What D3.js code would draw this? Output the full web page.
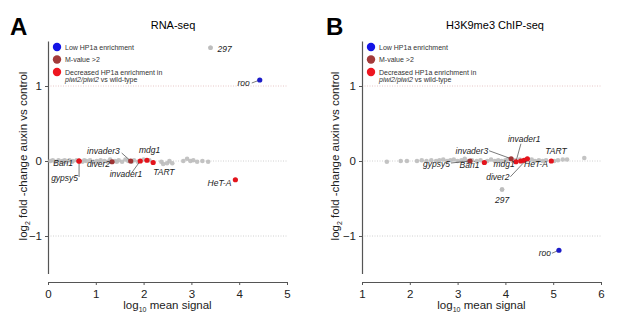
<!DOCTYPE html>
<html>
<head>
<meta charset="utf-8">
<script src="https://cdn.jsdelivr.net/npm/d3@7"></script>
<style>
body { margin: 0; background: #fff; }
text { font-family: "Liberation Sans", Arial, sans-serif; }
</style>
</head>
<body>
<div id="chart"></div>
<script>
// ---- data ----
var yTicks = [-1, 0, 1];
var xTicksA = [0, 1, 2, 3, 4, 5];
var xTicksB = [1, 2, 3, 4, 5, 6];

// background TEs (log10 mean signal, log2 fold change)
var grayA = [
    [0.05, 0.0], [0.1, 0.01], [0.15, -0.01], [0.22, 0.01], [0.27, -0.01], [0.3, 0.0],
    [0.35, 0.01], [0.38, -0.01], [0.45, 0.01], [0.5, -0.01],
    [0.52, 0.0], [0.6, 0.01], [0.72, -0.01], [0.76, 0.01], [0.8, 0.0], [0.88, 0.01], [0.95, -0.01],
    [1.02, 0.0], [1.06, -0.01], [1.1, 0.01], [1.18, 0.0], [1.25, -0.01], [1.3, 0.02], [1.4, 0.0],
    [1.44, -0.01], [1.48, 0.01], [1.55, -0.01], [1.62, 0.02], [1.68, 0.0], [1.75, -0.01], [1.8, 0.01], [1.88, -0.01],
    [2.0, 0.02], [2.12, 0.01], [2.37, -0.01], [2.41, -0.04], [2.49, -0.03], [2.54, 0.0],
    [2.6, -0.03], [2.83, 0.0], [2.91, 0.03], [2.98, 0.0], [3.04, 0.01], [3.12, -0.01],
    [3.23, 0.0], [3.35, -0.01], [3.4, 1.51]
];
var grayB = [
    [1.52, -0.01], [1.81, 0.0], [1.94, 0.0], [2.15, 0.0], [2.25, 0.01], [2.35, 0.0],
    [2.45, 0.01], [2.55, 0.0], [2.62, 0.01], [2.7, 0.02], [2.78, 0.0], [2.85, 0.01],
    [2.92, 0.02], [3.0, 0.0], [3.08, 0.01], [3.15, 0.03], [3.22, 0.0], [3.3, 0.01],
    [3.4, 0.0], [3.48, 0.01], [3.62, 0.0], [3.7, 0.02], [3.78, 0.0], [3.85, 0.01],
    [3.92, 0.0], [4.0, 0.01], [4.05, 0.02], [4.2, 0.01], [4.3, 0.02], [4.38, 0.0],
    [4.45, 0.01], [4.55, 0.02], [4.62, 0.0], [4.7, 0.01], [4.78, 0.0], [4.85, 0.01],
    [5.02, 0.0], [5.1, 0.01], [5.2, 0.02], [5.29, 0.02], [5.65, 0.04], [3.93, -0.38]
];

// named TEs: name, x, y, group (low / mval / dec)
var namedA = [
    ["297", 3.4, 1.51, "none"],
    ["roo", 4.43, 1.08, "low"],
    ["gypsy5", 0.65, 0.0, "dec"],
    ["Bari1", 0.65, 0.0, "dec"],
    ["diver2", 1.34, -0.01, "mval"],
    ["invader3", 1.73, 0.0, "mval"],
    ["invader1", 1.93, 0.0, "dec"],
    ["mdg1", 2.07, 0.01, "dec"],
    ["TART", 2.2, -0.02, "dec"],
    ["HeT-A", 3.92, -0.25, "dec"]
];
var namedB = [
    ["297", 3.93, -0.38, "none"],
    ["roo", 5.12, -1.19, "low"],
    ["gypsy5", 3.26, 0.0, "mval"],
    ["Bari1", 3.56, -0.02, "dec"],
    ["invader3", 4.12, 0.03, "mval"],
    ["invader1", 4.22, -0.01, "dec"],
    ["mdg1", 4.32, 0.0, "dec"],
    ["HeT-A", 4.39, 0.01, "dec"],
    ["diver2", 4.46, 0.03, "dec"],
    ["TART", 4.96, 0.0, "dec"]
];

var legendLabels = ["Low HP1a enrichment", "M-value >2", "Decreased HP1a enrichment in"];
var legendGroups = ["low", "mval", "dec"];

// ---- layout of labels (pixel offsets from the point) ----
var labelPosA = {
    "297": { dx: 7, dy: 4, anchor: "start" },
    "roo": { dx: -10, dy: 6, anchor: "end", line: [-8, 3] },
    "gypsy5": { dx: -1, dy: 20, anchor: "end", line: [0, 16] },
    "Bari1": { dx: -6, dy: 5, anchor: "end" },
    "diver2": { dx: -2, dy: 5, anchor: "end" },
    "invader3": { dx: -11, dy: -7, anchor: "end", line: [-9, -8] },
    "invader1": { dx: 2, dy: 16, anchor: "end", line: [-8, 11] },
    "mdg1": { dx: -8, dy: -7, anchor: "start" },
    "TART": { dx: 0, dy: 12, anchor: "start" },
    "HeT-A": { dx: -4, dy: 6, anchor: "end" }
};
var labelPosB = {
    "297": { dx: 0, dy: 13, anchor: "middle" },
    "roo": { dx: -8, dy: 6, anchor: "end", line: [-7, 3] },
    "gypsy5": { dx: -20, dy: 6, anchor: "end", line: [-19, 2] },
    "Bari1": { dx: -5, dy: 5, anchor: "end" },
    "invader3": { dx: -23, dy: -5, anchor: "end", line: [-22, -8] },
    "invader1": { dx: -8, dy: -20, anchor: "start", line: [5, -18] },
    "mdg1": { dx: -6, dy: 6, anchor: "end" },
    "HeT-A": { dx: 0, dy: 7, anchor: "start" },
    "diver2": { dx: -18, dy: 21, anchor: "end", line: [-17, 18] },
    "TART": { dx: -6, dy: -7, anchor: "start" }
};

var colors = { low: "#1c1cc8", mval: "#9e3333", dec: "#e3141c", none: "#bdbdbd" };
var legendColors = { low: "#1414e6", mval: "#a33a3a", dec: "#ee1620" };

var width = 617, height = 322;
var svg = d3.select("#chart").append("svg")
    .attr("width", width)
    .attr("height", height);

function drawPanel(cfg) {
    var x = d3.scaleLinear().domain(cfg.xDomain).range(cfg.xRange);
    var y = d3.scaleLinear().domain([-1.5, 1.6]).range([273.5, 41]);
    var g = svg.append("g");

    // panel letter and title
    g.append("text").attr("x", cfg.letterX).attr("y", 35)
        .attr("font-size", 24).attr("font-weight", "bold").text(cfg.letter);
    g.append("text").attr("x", cfg.titleX).attr("y", 29)
        .attr("text-anchor", "middle").attr("font-size", 11).text(cfg.title);

    // dotted reference lines
    g.selectAll(".ref").data(yTicks).enter().append("line")
        .attr("x1", cfg.xRange[0]).attr("x2", cfg.xRange[1])
        .attr("y1", function(d) { return y(d); })
        .attr("y2", function(d) { return y(d); })
        .attr("stroke", function(d) { return d == 1 ? "#e0b8b8" : "#c4c4c4"; })
        .attr("stroke-width", 0.8)
        .attr("stroke-dasharray", "1,1.5");

    // axes
    var yAxis = d3.axisLeft(y).tickValues(yTicks).tickSize(3).tickSizeOuter(0)
        .tickFormat(d3.format("d"));
    var yg = g.append("g").attr("transform", "translate(" + cfg.xRange[0] + ",0)").call(yAxis);
    var xAxis = d3.axisBottom(x).tickValues(cfg.xTicks).tickSize(3).tickSizeOuter(0)
        .tickFormat(d3.format("d"));
    var xg = g.append("g").attr("transform", "translate(0,282)").call(xAxis);
    [yg, xg].forEach(function(a) {
        a.select(".domain").attr("stroke", "#555").attr("stroke-width", 1.2);
        a.selectAll(".tick line").attr("stroke", "#555");
        a.selectAll(".tick text").attr("font-size", 11.5).attr("fill", "#222")
            .attr("font-family", "Liberation Sans, Arial, sans-serif");
    });
    xg.selectAll(".tick text").attr("dy", "0.9em");

    // axis titles
    var xt = g.append("text").attr("x", (cfg.xRange[0] + cfg.xRange[1]) / 2).attr("y", 309)
        .attr("text-anchor", "middle").attr("font-size", 11.5).attr("fill", "#222");
    xt.append("tspan").text("log");
    xt.append("tspan").attr("font-size", 7).attr("dy", 3).text("10");
    xt.append("tspan").attr("dy", -3).text(" mean signal");

    var yt = g.append("text")
        .attr("transform", "translate(" + cfg.yTitleX + ",156) rotate(-90)")
        .attr("text-anchor", "middle").attr("font-size", 11.5).attr("fill", "#222");
    yt.append("tspan").text("log");
    yt.append("tspan").attr("font-size", 7).attr("dy", 3).text("2");
    yt.append("tspan").attr("dy", -3).text(" fold -change auxin vs control");

    // legend
    var lg = g.append("g");
    lg.selectAll("circle").data(legendGroups).enter().append("circle")
        .attr("cx", cfg.xRange[0] + 9)
        .attr("cy", function(d, i) { return 47 + i * 12.5; })
        .attr("r", 4.2)
        .attr("fill", function(d) { return legendColors[d]; });
    lg.selectAll("text").data(legendLabels).enter().append("text")
        .attr("x", cfg.xRange[0] + 17)
        .attr("y", function(d, i) { return 49.5 + i * 12.5; })
        .attr("font-size", 7).attr("fill", "#333")
        .text(function(d) { return d; });
    var l4 = lg.append("text").attr("x", cfg.xRange[0] + 17).attr("y", 82)
        .attr("font-size", 7).attr("fill", "#333");
    l4.append("tspan").attr("font-style", "italic").text("piwi2/piwi2");
    l4.append("tspan").text(" vs wild-type");

    // background points
    g.append("g").selectAll("circle").data(cfg.gray).enter().append("circle")
        .attr("cx", function(d) { return x(d[0]); })
        .attr("cy", function(d) { return y(d[1]); })
        .attr("r", 2.3)
        .attr("fill", colors.none)
        .attr("fill-opacity", 0.9);

    // connectors
    var named = cfg.named;
    g.append("g").selectAll("line").data(named.filter(function(d) { return cfg.pos[d[0]].line; }))
        .enter().append("line")
        .attr("x1", function(d) { return x(d[1]); })
        .attr("y1", function(d) { return y(d[2]); })
        .attr("x2", function(d) { return x(d[1]) + cfg.pos[d[0]].line[0]; })
        .attr("y2", function(d) { return y(d[2]) + cfg.pos[d[0]].line[1]; })
        .attr("stroke", "#222").attr("stroke-width", 0.6);

    // named points
    g.append("g").selectAll("circle").data(named).enter().append("circle")
        .attr("cx", function(d) { return x(d[1]); })
        .attr("cy", function(d) { return y(d[2]); })
        .attr("r", function(d) { return d[3] == "none" ? 2.3 : 2.6; })
        .attr("fill", function(d) { return colors[d[3]]; });

    // labels
    g.append("g").selectAll("text").data(named).enter().append("text")
        .attr("x", function(d) { return x(d[1]) + cfg.pos[d[0]].dx; })
        .attr("y", function(d) { return y(d[2]) + cfg.pos[d[0]].dy; })
        .attr("text-anchor", function(d) { return cfg.pos[d[0]].anchor; })
        .attr("font-size", 8.5).attr("font-style", "italic").attr("fill", "#222")
        .text(function(d) { return d[0]; });
}

drawPanel({
    letter: "A", letterX: 10, title: "RNA-seq", titleX: 173, yTitleX: 27,
    xDomain: [0, 5], xRange: [48, 287], xTicks: xTicksA,
    gray: grayA, named: namedA, pos: labelPosA
});
drawPanel({
    letter: "B", letterX: 326, title: "H3K9me3 ChIP-seq", titleX: 495, yTitleX: 339,
    xDomain: [1, 6], xRange: [362, 601], xTicks: xTicksB,
    gray: grayB, named: namedB, pos: labelPosB
});
</script>
</body>
</html>
